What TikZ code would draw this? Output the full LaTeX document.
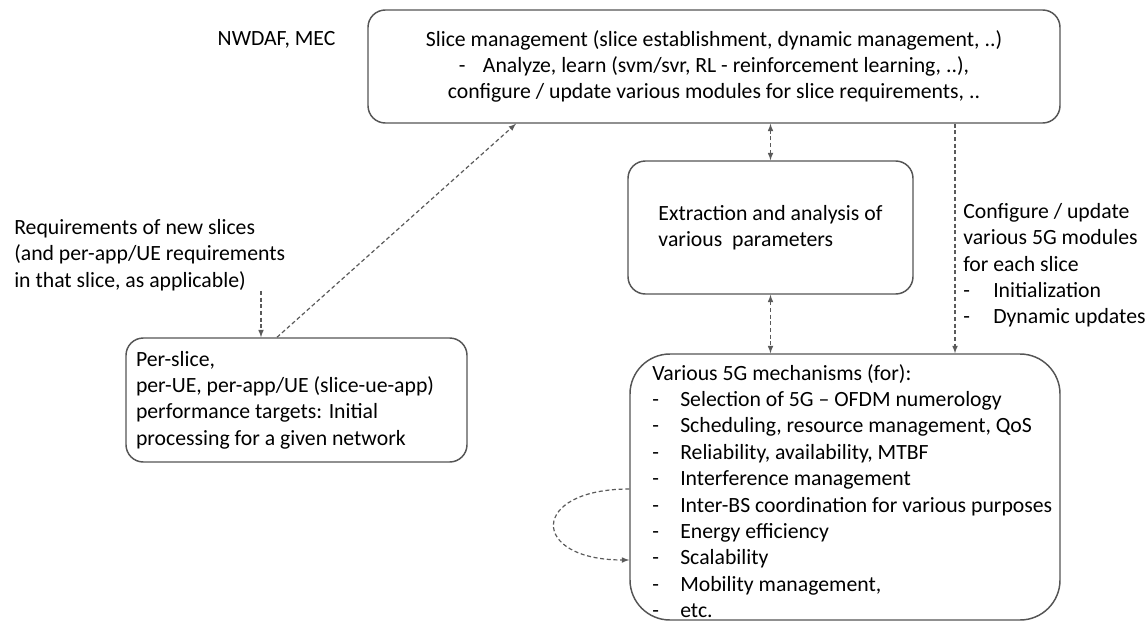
\documentclass[tikz,border=0pt]{standalone}
\usepackage{fontspec}
\setmainfont{Carlito}
\usetikzlibrary{calc}
\definecolor{boxline}{HTML}{555555}
\definecolor{dashline}{HTML}{5A5A5A}
\tikzset{
    box/.style={draw=boxline, line width=1.1pt, rounded corners=13pt},
    link/.style={draw=dashline, line width=0.9pt, dash pattern=on 3pt off 2pt},
}
\newcommand{\dashitem}[1]{\makebox[21pt][l]{-}#1}
\begin{document}
\begin{tikzpicture}[>=latex, x=0.75pt, y=-0.75pt, font=\fontsize{16.3}{19.8}\selectfont]
\useasboundingbox (0,0) rectangle (1146,621);
% boxes
\node[box, align=center, minimum width=519pt, minimum height=84.75pt] (slice) at (714,66.5)
    {Slice management (slice establishment, dynamic management, ..)\\
     \makebox[18pt][l]{-}Analyze, learn (svm/svr, RL - reinforcement learning, ..),\\
     configure / update various modules for slice requirements, ..};
\node[box, align=left, minimum width=213.75pt, minimum height=99.75pt] (extract) at (770.5,227.5)
    {Extraction and analysis of\\ various~ parameters};
\node[box, align=flush left, text width=240.75pt, inner xsep=7.5pt, minimum height=93pt] (persl) at (296.5,400)
    {Per-slice,\\ per-UE, per-app/UE (slice-ue-app)\\ performance targets: Initial\\ processing for a given network};
\node[box, rounded corners=30pt, minimum width=322.5pt, minimum height=199.5pt] (mech) at (845,487) {};
\node[anchor=north west, align=left, inner sep=0pt] (mechlist) at (652,364)
    {Various 5G mechanisms (for):\\
     \dashitem{Selection of 5G -- OFDM numerology}\\
     \dashitem{Scheduling, resource management, QoS}\\
     \dashitem{Reliability, availability, MTBF}\\
     \dashitem{Interference management}\\
     \dashitem{Inter-BS coordination for various purposes}\\
     \dashitem{Energy efficiency}\\
     \dashitem{Scalability}\\
     \dashitem{Mobility management,}\\
     \dashitem{etc.}};
% free text
\node[anchor=west] (nwdaf) at (213,40) {NWDAF, MEC};
\node[anchor=north west, align=left, inner sep=0pt] (req) at (14,219)
    {Requirements of new slices\\ (and per-app/UE requirements\\ in that slice, as applicable)};
\node[anchor=north west, align=left, inner xsep=6pt, inner ysep=0pt] (cfg) at (955,203)
    {Configure / update\\ various 5G modules\\ for each slice\\
     \makebox[22.5pt][l]{-}Initialization\\ \makebox[22.5pt][l]{-}Dynamic updates};
% connectors
\draw[link,<->] (extract.north) -- (extract.north |- slice.south);
\draw[link,<->] (extract.south) -- (extract.south |- mech.north);
\draw[link,->] (cfg.west |- slice.south) -- (cfg.west |- mech.north);
\draw[link,->] ($(persl.north)+(-19.5,0)$) -- ($(slice.south)+(-198,0)$);
\coordinate (reqend) at ($(persl.north)+(-35.5,0)$);
\draw[link,->] (req.south -| reqend) -- (reqend);
\draw[link,->] ($(mech.west)+(0,2)$) .. controls ($(mech.west)+(-100,2)$) and ($(mech.west)+(-100,73)$) .. ($(mech.west)+(0,73)$);
\end{tikzpicture}
\end{document}
